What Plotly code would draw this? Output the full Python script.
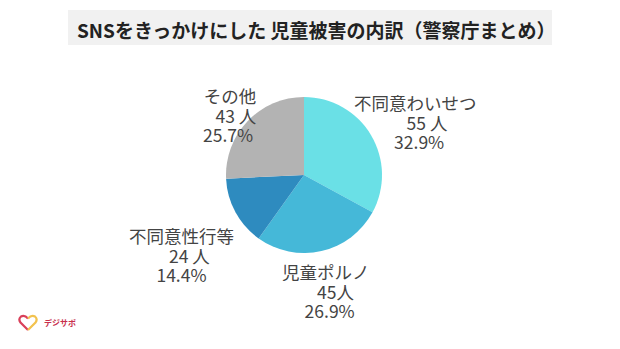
import plotly.graph_objects as go

categories = ["不同意わいせつ", "児童ポルノ", "不同意性行等", "その他"]
counts = [55, 45, 24, 43]
count_labels = ["55 人", "45人", "24 人", "43 人"]
colors = ["#6ae0e6", "#45b8d8", "#2e8bbf", "#b3b3b3"]
title_text = "SNSをきっかけにした 児童被害の内訳（警察庁まとめ）"

W, H = 620, 349
total = sum(counts)
pcts = [f"{c / total * 100:.1f}%" for c in counts]

cx, cy, r = 304, 175, 78
fig = go.Figure(go.Pie(
    labels=categories, values=counts, sort=False, direction="clockwise", rotation=0,
    marker=dict(colors=colors, line=dict(width=0)), textinfo="none", hoverinfo="skip",
    showlegend=False,
    domain=dict(x=[(cx - r) / W, (cx + r) / W], y=[(H - cy - r) / H, (H - cy + r) / H]),
))

FONT = "Noto Sans CJK JP"
NB = "\u00a0"
# label block centre (px) and per-line leading / trailing padding (number of nbsp)
label_pos = [(415, 121.5), (326, 290.5), (182, 254.5), (230, 114.5)]
pads = [[(0, 0), (6, 0), (2, 0)],
        [(0, 0), (5, 0), (2, 0)],
        [(0, 0), (4, 0), (0, 0)],
        [(0, 0), (3, 0), (0, 1)]]

annotations = []
for i, cat in enumerate(categories):
    texts = [cat, count_labels[i], pcts[i]]
    lines = []
    for t, (lp, tp) in zip(texts, pads[i]):
        lines.append('<span style="font-size:17.5px">' + NB * lp + t + NB * tp + "</span>")
    px, py = label_pos[i]
    annotations.append(dict(x=px / W, y=1 - py / H, xref="paper", yref="paper",
                            text="<br>".join(lines), showarrow=False, align="center",
                            xanchor="center", yanchor="middle", borderpad=0,
                            font=dict(family=FONT, size=15, color="#444444")))

annotations.append(dict(x=75 / W, y=1 - 29 / H, xref="paper", yref="paper", text="<b>" + title_text + "</b>",
                        showarrow=False, xanchor="left", yanchor="middle",
                        font=dict(family=FONT, size=19, color="#222222")))
annotations.append(dict(x=42 / W, y=1 - 322 / H, xref="paper", yref="paper", text="<b>デジサポ</b>",
                        showarrow=False, xanchor="left", yanchor="middle",
                        font=dict(family=FONT, size=8, color="#c8304c")))


def P(x, y):
    return f"{x / W:.5f},{1 - y / H:.5f}"


heart_left = f"M {P(28, 330)} L {P(20.5, 322.5)} Q {P(18, 319)} {P(21, 316.5)} Q {P(24.5, 314.5)} {P(28, 318.5)}"
heart_right = f"M {P(28, 318.5)} Q {P(31.5, 314.5)} {P(35, 316.5)} Q {P(38, 319)} {P(35.5, 322.5)} L {P(28, 330)}"

shapes = [
    dict(type="rect", xref="paper", yref="paper", x0=68 / W, x1=552 / W,
         y0=1 - 45 / H, y1=1 - 10 / H, fillcolor="#f1f1f1", line=dict(width=0), layer="below"),
    dict(type="path", xref="paper", yref="paper", path=heart_left, line=dict(color="#d9405a", width=2.2)),
    dict(type="path", xref="paper", yref="paper", path=heart_right, line=dict(color="#f2c24e", width=2.2)),
]

fig.update_layout(width=W, height=H, margin=dict(l=0, r=0, t=0, b=0),
                  paper_bgcolor="white", plot_bgcolor="white",
                  annotations=annotations, shapes=shapes)
fig.write_html("out.html")
